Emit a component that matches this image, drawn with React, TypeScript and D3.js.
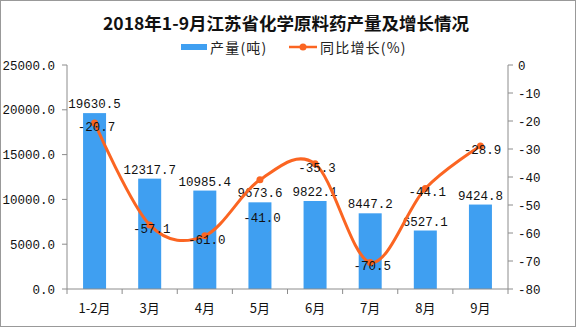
import React from "react";
import * as d3 from "d3";

const categories = ["1-2月", "3月", "4月", "5月", "6月", "7月", "8月", "9月"];
const production = [19630.5, 12317.7, 10985.4, 9673.6, 9822.1, 8447.2, 6527.1, 9424.8];
const growth = [-20.7, -57.1, -61.0, -41.0, -35.3, -70.5, -44.1, -28.9];
const leftTicks = [0, 5000, 10000, 15000, 20000, 25000];
const rightTicks = [0, -10, -20, -30, -40, -50, -60, -70, -80];

const W = 576, H = 327;
const L = 67, R = 508, T = 65, B = 289;
const BLUE = "#3f9ff1";
const ORANGE = "#fb6522";
const AX = "#8c8c8c";
const MONO = "'Liberation Mono', 'DejaVu Sans Mono', monospace";
const CJK = "'Noto Sans CJK SC', sans-serif";
const FS = 12.5;

export default function App() {
  const x = d3.scaleBand().domain(categories).range([L, R]).paddingInner(0).paddingOuter(0);
  const yL = d3.scaleLinear().domain([0, 25000]).range([B, T]);
  const yR = d3.scaleLinear().domain([-80, 0]).range([B, T]);
  const bw = 23;
  const cx = (c: string) => (x(c) as number) + x.bandwidth() / 2;
  const line = d3
    .line<number>()
    .x((_, i) => cx(categories[i]))
    .y((d) => yR(d))
    .curve(d3.curveCardinal.tension(0));
  const bounds = [...categories.map((c) => x(c) as number), R];

  // simple collision avoidance between line labels and bar labels
  const lineLabelY = growth.map((v, i) => {
    const base = yR(v) + 8;
    const barBase = yL(production[i]) - 5;
    const top1 = base - 10, bot1 = base + 2;
    const top2 = barBase - 10, bot2 = barBase + 2;
    if (top1 < bot2 && top2 < bot1) {
      return yL(production[i]) + 20;
    }
    return base;
  });

  return (
    <svg width={W} height={H} style={{ position: "absolute", left: 0, top: 0, background: "#fff" }}>
      <rect x={0.5} y={0.5} width={W - 1} height={H - 1} fill="#fff" stroke="#999" />
      <text x={286} y={30} textAnchor="middle" fontFamily={CJK} fontWeight="bold" fontSize={17.5} fill="#111">
        2018年1-9月江苏省化学原料药产量及增长情况
      </text>
      {/* legend */}
      <rect x={181} y={44} width={26} height={6} fill={BLUE} />
      <text x={210} y={52.5} fontFamily={CJK} fontSize={14} letterSpacing={1.2} fill="#222">产量(吨)</text>
      <line x1={289} x2={317} y1={47} y2={47} stroke={ORANGE} strokeWidth={2.5} />
      <circle cx={303} cy={47} r={3.5} fill={ORANGE} />
      <text x={320} y={52.5} fontFamily={CJK} fontSize={14} letterSpacing={1.2} fill="#222">同比增长(%)</text>

      {/* bars */}
      {production.map((v, i) => (
        <rect key={"b" + i} x={cx(categories[i]) - bw / 2} y={yL(v)} width={bw} height={B - yL(v)} fill={BLUE} />
      ))}

      {/* axes */}
      <line x1={L} x2={L} y1={T} y2={B} stroke={AX} />
      <line x1={R} x2={R} y1={T} y2={B} stroke={AX} />
      <line x1={L} x2={R} y1={B} y2={B} stroke={AX} />
      {leftTicks.map((t) => (
        <g key={"l" + t}>
          <line x1={L - 5} x2={L} y1={yL(t)} y2={yL(t)} stroke={AX} />
          <text x={55} y={yL(t) + 4.5} textAnchor="end" fontFamily={MONO} fontSize={FS} fill="#111">
            {t.toFixed(1)}
          </text>
        </g>
      ))}
      {rightTicks.map((t) => (
        <g key={"r" + t}>
          <line x1={R} x2={R + 5} y1={yR(t)} y2={yR(t)} stroke={AX} />
          <text x={518} y={yR(t) + 4.5} fontFamily={MONO} fontSize={FS} fill="#111">
            {String(t)}
          </text>
        </g>
      ))}
      {bounds.map((b, i) => (
        <line key={"t" + i} x1={b} x2={b} y1={B} y2={B + 5} stroke={AX} />
      ))}
      {categories.map((c) => (
        <text key={c} x={cx(c)} y={313} textAnchor="middle" fontFamily={CJK} fontSize={13} fill="#111">
          {c}
        </text>
      ))}

      {/* bar labels */}
      {production.map((v, i) => (
        <text key={"bl" + i} x={cx(categories[i])} y={yL(v) - 5} textAnchor="middle" fontFamily={MONO} fontSize={FS} fill="#111">
          {v.toFixed(1)}
        </text>
      ))}

      {/* line */}
      <path d={line(growth) || ""} fill="none" stroke={ORANGE} strokeWidth={3} />
      {growth.map((v, i) => (
        <circle key={"c" + i} cx={cx(categories[i])} cy={yR(v)} r={3.5} fill={ORANGE} />
      ))}
      {growth.map((v, i) => (
        <text key={"gl" + i} x={cx(categories[i]) + 2} y={lineLabelY[i]} textAnchor="middle" fontFamily={MONO} fontSize={FS} fill="#111">
          {v.toFixed(1)}
        </text>
      ))}
    </svg>
  );
}
